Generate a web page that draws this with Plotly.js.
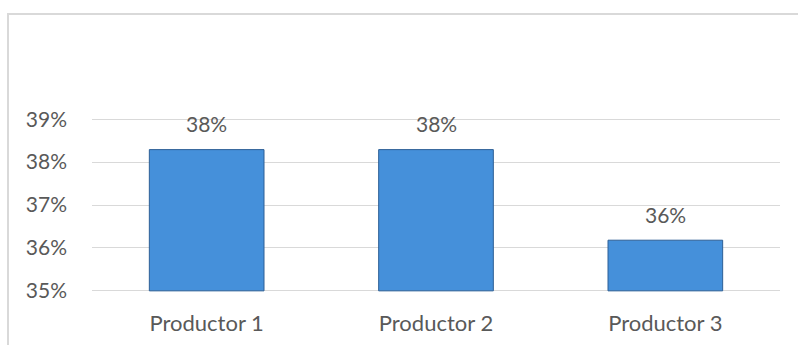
<!DOCTYPE html>
<html>
<head>
<meta charset="utf-8">
<script src="https://cdn.plot.ly/plotly-3.0.1.min.js"></script>
<style>
  html, body { margin: 0; padding: 0; background: #ffffff; overflow: hidden; }
  #wrap { position: relative; width: 798px; height: 345px; }
  #frame { position: absolute; left: 7px; top: 13px; width: 820px; height: 360px;
           border-left: 2px solid #d9d9d9; border-top: 2px solid #d9d9d9; box-sizing: border-box; }
  #chart { position: absolute; left: 0; top: 0; width: 798px; height: 345px; }
</style>
</head>
<body>
<div id="wrap">
  <div id="frame"></div>
  <div id="chart"></div>
</div>
<script>
const categories = ['Productor 1', 'Productor 2', 'Productor 3'];
const values = [0.3829, 0.3829, 0.3618];
const yTickValues = [0.35, 0.36, 0.37, 0.38, 0.39];
const axisMin = 0.35;

const fontFamily = 'Lato, "Open Sans", sans-serif';
const textColor = '#595959';

const trace = {
  type: 'bar',
  x: categories,
  base: axisMin,
  y: values.map(v => v - axisMin),
  marker: { color: '#4590da', line: { color: '#2d5f96', width: 1 } },
  hoverinfo: 'none'
};

const annotations = categories.map((c, i) => ({
  x: c, y: values[i], xref: 'x', yref: 'y',
  text: Math.round(values[i] * 100) + '%',
  showarrow: false, yanchor: 'middle', yshift: 26,
  font: { family: fontFamily, size: 21, color: textColor }
}));

const layout = {
  width: 798, height: 345,
  margin: { l: 92, r: 18, t: 117, b: 52, pad: 0 },
  paper_bgcolor: 'rgba(0,0,0,0)',
  plot_bgcolor: 'rgba(0,0,0,0)',
  bargap: 0.5,
  showlegend: false,
  font: { family: fontFamily, size: 21, color: textColor },
  xaxis: {
    showgrid: false, showline: false, zeroline: false, ticks: '',
    ticklabelstandoff: 15,
    tickfont: { family: fontFamily, size: 22, color: textColor }
  },
  yaxis: {
    range: [0.3495, 0.3905], tickvals: yTickValues, tickformat: '.0%',
    showgrid: true, gridcolor: '#d9d9d9', gridwidth: 1,
    showline: false, zeroline: false, ticks: '',
    ticklabelstandoff: 24,
    tickfont: { family: fontFamily, size: 21, color: textColor }
  },
  annotations: annotations
};

Plotly.newPlot('chart', [trace], layout, { staticPlot: true, displayModeBar: false });
</script>
</body>
</html>
